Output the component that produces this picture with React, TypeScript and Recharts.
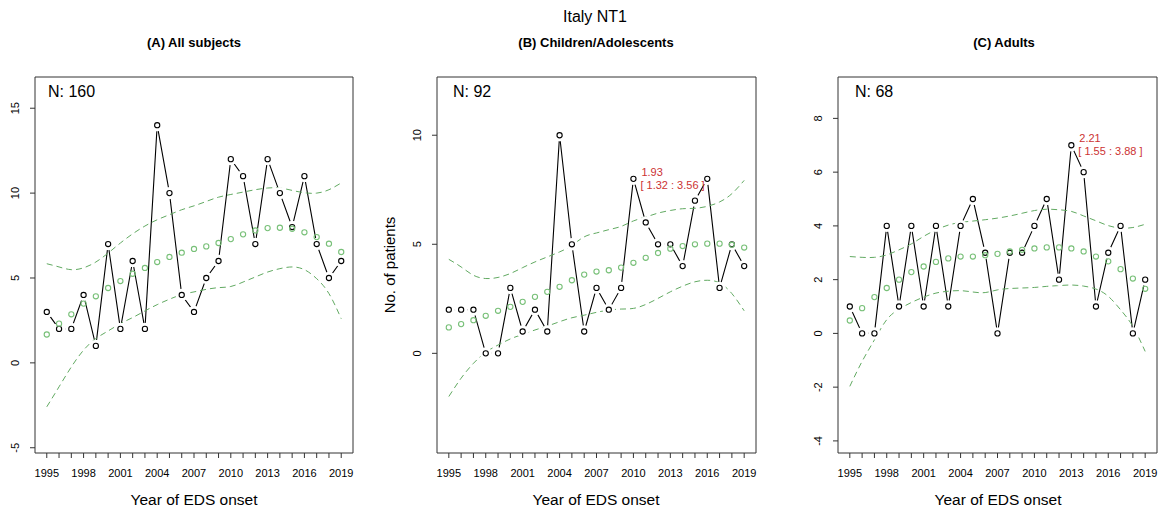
import React from 'react';
import { ComposedChart, Line, XAxis, YAxis, ReferenceArea, ReferenceDot } from 'recharts';

const FONT = '"Liberation Sans", Arial, Helvetica, sans-serif';
const RED = '#cc3333';
const DOT_GREEN = '#78c078';
const DASH_GREEN = '#62aa62';
const INK = '#333';

const years = [1995, 1996, 1997, 1998, 1999, 2000, 2001, 2002, 2003, 2004, 2005, 2006, 2007,
  2008, 2009, 2010, 2011, 2012, 2013, 2014, 2015, 2016, 2017, 2018, 2019];
const yearLabels = [1995, 1998, 2001, 2004, 2007, 2010, 2013, 2016, 2019];
const xDomain: [number, number] = [1994.04, 2019.96];

// (A) All subjects
const countsA = [3, 2, 2, 4, 1, 7, 2, 6, 2, 14, 10, 4, 3, 5, 6, 12, 11, 7, 12, 10, 8, 11, 7, 5, 6];
const fitA = [1.67, 2.31, 2.86, 3.49, 3.92, 4.41, 4.82, 5.25, 5.59, 5.94, 6.24, 6.49, 6.71, 6.86,
  7.06, 7.29, 7.57, 7.8, 7.94, 7.96, 7.9, 7.69, 7.41, 7.02, 6.53];
const upperA = [5.84, 5.65, 5.49, 5.6, 5.94, 6.47, 7.06, 7.6, 8.06, 8.43, 8.73, 9.02, 9.25, 9.51,
  9.76, 9.92, 10.06, 10.2, 10.3, 10.3, 10.16, 10.02, 10.0, 10.2, 10.6];
const lowerA = [-2.59, -1.41, -0.24, 0.75, 1.43, 1.88, 2.31, 2.67, 3.06, 3.43, 3.75, 4.02, 4.18,
  4.33, 4.43, 4.5, 4.76, 5.06, 5.35, 5.55, 5.65, 5.49, 4.96, 4.08, 2.6];
const yTicksA = [-5, 0, 5, 10, 15];

// (B) Children/Adolescents
const countsB = [2, 2, 2, 0, 0, 3, 1, 2, 1, 10, 5, 1, 3, 2, 3, 8, 6, 5, 5, 4, 7, 8, 3, 5, 4];
const fitB = [1.19, 1.34, 1.52, 1.72, 1.95, 2.13, 2.36, 2.59, 2.82, 3.05, 3.35, 3.61, 3.75, 3.81,
  3.93, 4.15, 4.38, 4.6, 4.8, 4.92, 5.0, 5.03, 5.03, 4.98, 4.85];
const upperB = [4.31, 3.96, 3.58, 3.43, 3.48, 3.66, 3.93, 4.19, 4.42, 4.65, 4.95, 5.34, 5.52, 5.67,
  5.82, 6.07, 6.25, 6.43, 6.55, 6.63, 6.65, 6.74, 6.94, 7.32, 7.93];
const lowerB = [-1.98, -1.14, -0.46, 0.05, 0.38, 0.66, 0.87, 1.07, 1.25, 1.45, 1.63, 1.75, 1.88,
  1.98, 2.03, 2.06, 2.24, 2.52, 2.82, 3.08, 3.28, 3.35, 3.23, 2.74, 1.95];
const yTicksB = [0, 5, 10];

// (C) Adults
const countsC = [1, 0, 0, 4, 1, 4, 1, 4, 1, 4, 5, 3, 0, 3, 3, 4, 5, 2, 7, 6, 1, 3, 4, 0, 2];
const fitC = [0.48, 0.94, 1.35, 1.69, 2.0, 2.28, 2.49, 2.66, 2.79, 2.86, 2.86, 2.91, 2.96, 3.05,
  3.11, 3.16, 3.2, 3.2, 3.16, 3.05, 2.86, 2.68, 2.39, 2.04, 1.66];
const upperC = [2.86, 2.83, 2.83, 2.92, 3.11, 3.33, 3.61, 3.85, 4.03, 4.13, 4.18, 4.23, 4.29, 4.37,
  4.47, 4.57, 4.62, 4.6, 4.54, 4.37, 4.19, 4.01, 3.92, 3.94, 4.06];
const lowerC = [-1.97, -1.04, -0.24, 0.51, 0.9, 1.15, 1.35, 1.5, 1.57, 1.59, 1.54, 1.52, 1.62,
  1.67, 1.69, 1.71, 1.75, 1.78, 1.8, 1.76, 1.65, 1.38, 0.88, 0.26, -0.67];
const yTicksC = [-4, -2, 0, 2, 4, 6, 8];

type Annot = { year: number; value: number; est: string; ci: string };

function Txt({ x, y, size, bold, children, rotate }: any) {
  return (
    <div
      style={{
        position: 'absolute', left: x, top: y, fontSize: size, fontWeight: bold ? 700 : 400,
        lineHeight: 1, whiteSpace: 'nowrap', color: '#000',
        transform: `translate(-50%, -50%)${rotate ? ` rotate(${rotate}deg)` : ''}`
      }}
    >
      {children}
    </div>
  );
}

const YTick = ({ x, y, payload }: any) => {
  const cx = x - 13;
  return (
    <text x={cx} y={y} transform={`rotate(-90, ${cx}, ${y})`} textAnchor="middle"
      dominantBaseline="central" fontSize={11} fill="#000" fontFamily={FONT}>
      {payload.value}
    </text>
  );
};

const XTick = ({ x, y, payload }: any) => {
  if (!yearLabels.includes(payload.value)) return <g />;
  return (
    <text x={x} y={y + 13} textAnchor="middle" dominantBaseline="central" fontSize={11}
      fill="#000" fontFamily={FONT}>
      {payload.value}
    </text>
  );
};

// open circle with a white halo, like R's type = "b" gaps
const CountDot = (props: any) => {
  const { cx, cy, index } = props;
  if (cx == null || cy == null) return <g key={`c-${index}`} />;
  return (
    <g key={`c-${index}`}>
      <circle cx={cx} cy={cy} r={6.2} fill="#fff" stroke="none" />
      <circle cx={cx} cy={cy} r={2.6} fill="#fff" stroke="#000" strokeWidth={1.1} />
    </g>
  );
};

const FitDot = (props: any) => {
  const { cx, cy, index } = props;
  if (cx == null || cy == null) return <g key={`f-${index}`} />;
  return <circle key={`f-${index}`} cx={cx} cy={cy} r={2.6} fill="none" stroke={DOT_GREEN} strokeWidth={1.1} />;
};

function Panel({
  left, yAxisWidth, marginRight, counts, fit, upper, lower, yDomain, yTicks, annot
}: {
  left: number; yAxisWidth: number; marginRight: number;
  counts: number[]; fit: number[]; upper: number[]; lower: number[];
  yDomain: [number, number]; yTicks: number[]; annot?: Annot;
}) {
  const rows = years.map((year, i) => ({
    year, count: counts[i], fit: fit[i], upper: upper[i], lower: lower[i]
  }));
  return (
    <div style={{ position: 'absolute', left, top: 0 }}>
      <ComposedChart width={387} height={508} data={rows}
        margin={{ top: 77, right: marginRight, left: 0, bottom: 0 }}>
        <XAxis dataKey="year" type="number" domain={xDomain} allowDataOverflow ticks={years}
          interval={0} axisLine={false} tickSize={5} tickMargin={2} height={55}
          tickLine={{ stroke: INK }} tick={<XTick />} />
        <YAxis type="number" domain={yDomain} allowDataOverflow ticks={yTicks} width={yAxisWidth}
          axisLine={false} tickSize={5} tickMargin={2} tickLine={{ stroke: INK }} tick={<YTick />} />
        <ReferenceArea x1={xDomain[0]} x2={xDomain[1]} y1={yDomain[0]} y2={yDomain[1]}
          fill="none" stroke={INK} strokeWidth={1} ifOverflow="visible" />
        <Line dataKey="count" stroke="#000" strokeWidth={1.1} type="linear"
          dot={CountDot} activeDot={false} isAnimationActive={false} />
        <Line dataKey="upper" stroke={DASH_GREEN} strokeWidth={1} strokeDasharray="6 4"
          type="natural" dot={false} activeDot={false} isAnimationActive={false} />
        <Line dataKey="lower" stroke={DASH_GREEN} strokeWidth={1} strokeDasharray="6 4"
          type="natural" dot={false} activeDot={false} isAnimationActive={false} />
        <Line dataKey="fit" stroke="none" type="linear" dot={FitDot} activeDot={false}
          isAnimationActive={false} />
        {annot && (
          <ReferenceDot x={annot.year} y={annot.value} r={3} fill="none" stroke="none"
            ifOverflow="visible"
            label={(p: any) => {
              const vb = p.viewBox || {};
              const cx = (vb.x ?? 0) + (vb.width ?? 0) / 2;
              const cy = (vb.y ?? 0) + (vb.height ?? 0) / 2;
              return (
                <g>
                  <text x={cx + 8} y={cy - 7} fontSize={11} fill={RED} fontFamily={FONT}
                    dominantBaseline="central">{annot.est}</text>
                  <text x={cx + 7} y={cy + 6} fontSize={11} fill={RED} fontFamily={FONT}
                    dominantBaseline="central">{annot.ci}</text>
                </g>
              );
            }}
          />
        )}
      </ComposedChart>
    </div>
  );
}

export default function App() {
  return (
    <div style={{
      position: 'absolute', left: 0, top: 0, width: 1161, height: 508, background: '#fff',
      fontFamily: FONT, overflow: 'hidden'
    }}>
      <Panel left={0} yAxisWidth={35} marginRight={34} counts={countsA} fit={fitA}
        upper={upperA} lower={lowerA} yDomain={[-5.31, 16.84]} yTicks={yTicksA} />
      <Panel left={387} yAxisWidth={50} marginRight={18} counts={countsB} fit={fitB}
        upper={upperB} lower={lowerB} yDomain={[-4.57, 12.67]} yTicks={yTicksB}
        annot={{ year: 2010, value: 8, est: '1.93', ci: '[ 1.32 : 3.56 ]' }} />
      <Panel left={774} yAxisWidth={64} marginRight={4} counts={countsC} fit={fitC}
        upper={upperC} lower={lowerC} yDomain={[-4.45, 9.54]} yTicks={yTicksC}
        annot={{ year: 2013, value: 7, est: '2.21', ci: '[ 1.55 : 3.88 ]' }} />

      <Txt x={595} y={17} size={16}>Italy NT1</Txt>
      <Txt x={194} y={42} size={13} bold>(A) All subjects</Txt>
      <Txt x={596} y={42} size={13} bold>(B) Children/Adolescents</Txt>
      <Txt x={1004} y={42} size={13} bold>(C) Adults</Txt>

      <div style={{ position: 'absolute', left: 48, top: 92, transform: 'translateY(-50%)', fontSize: 16, lineHeight: 1 }}>N: 160</div>
      <div style={{ position: 'absolute', left: 453, top: 92, transform: 'translateY(-50%)', fontSize: 16, lineHeight: 1 }}>N: 92</div>
      <div style={{ position: 'absolute', left: 855, top: 92, transform: 'translateY(-50%)', fontSize: 16, lineHeight: 1 }}>N: 68</div>

      <Txt x={389} y={265} size={15} rotate={-90}>No. of patients</Txt>

      <Txt x={194} y={500} size={15.5}>Year of EDS onset</Txt>
      <Txt x={596} y={500} size={15.5}>Year of EDS onset</Txt>
      <Txt x={998} y={500} size={15.5}>Year of EDS onset</Txt>
    </div>
  );
}
